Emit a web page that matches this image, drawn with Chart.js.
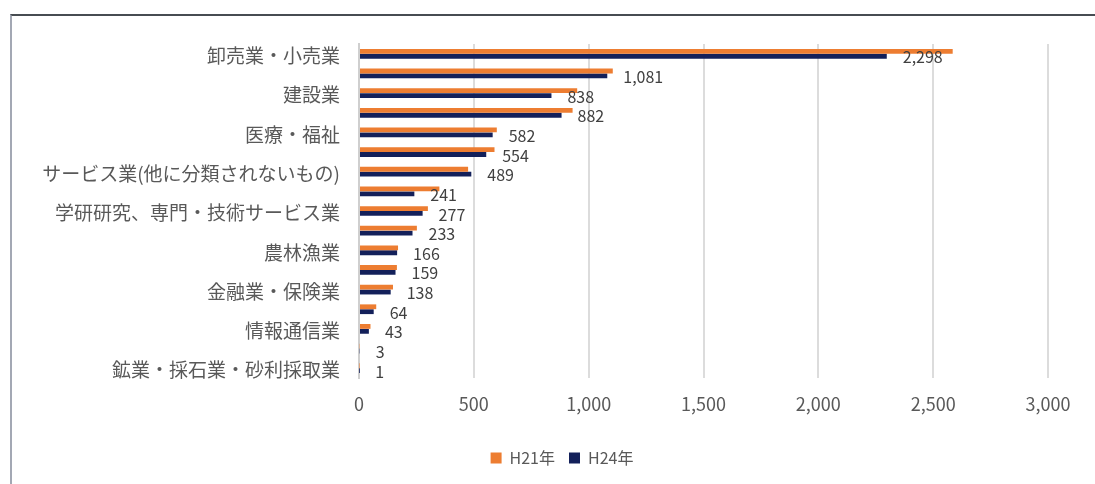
<!DOCTYPE html>
<html lang="ja">
<head>
<meta charset="utf-8">
<title>産業別 事業所数</title>
<script src="https://cdn.jsdelivr.net/npm/chart.js@4/dist/chart.umd.min.js"></script>
<style>
  html, body { margin: 0; padding: 0; background: #fff; }
  body { width: 1095px; height: 484px; position: relative; overflow: hidden; }
  #marco {
    position: absolute; left: 10px; top: 14px; width: 1120px; height: 500px;
    border-top: 2px solid #474c52; border-left: 2px solid #a3a8b4;
    box-sizing: border-box; background: #fff;
  }
  #wrap { position: absolute; left: 0; top: 0; width: 1095px; height: 484px; }
</style>
</head>
<body>
<div id="marco"></div>
<div id="wrap"><canvas id="grafico"></canvas></div>
<script>
// 産業分類（ラベルは1つおきに表示）
const categorias = [
  "卸売業・小売業",
  "宿泊業・飲食サービス業",
  "建設業",
  "製造業",
  "医療・福祉",
  "生活関連サービス業・娯楽業",
  "サービス業(他に分類されないもの)",
  "不動産業・物品賃貸業",
  "学研研究、専門・技術サービス業",
  "運輸業・郵便業",
  "農林漁業",
  "教育・学習支援業",
  "金融業・保険業",
  "複合サービス事業",
  "情報通信業",
  "電気・ガス・熱供給・水道業",
  "鉱業・採石業・砂利採取業"
];
const valoresH21 = [2585, 1105, 950, 930, 600, 590, 475, 350, 300, 252, 170, 165, 148, 75, 50, 3, 2];
const valoresH24 = [2298, 1081, 838, 882, 582, 554, 489, 241, 277, 233, 166, 159, 138, 64, 43, 3, 1];
const ticksX = [0, 500, 1000, 1500, 2000, 2500, 3000];

const fuente = "'Noto Sans CJK JP', 'Noto Sans', sans-serif";
Chart.defaults.font.family = fuente;
Chart.defaults.color = "#595959";

function formato(v) {
  return Number(v).toLocaleString("en-US");
}

// H24年の値を棒の右側に書く
const etiquetasValor = {
  id: "etiquetasValor",
  afterDatasetsDraw(chart) {
    const ctx = chart.ctx;
    const meta = chart.getDatasetMeta(1);
    ctx.save();
    ctx.font = "16px " + fuente;
    ctx.fillStyle = "#404040";
    ctx.textAlign = "left";
    ctx.textBaseline = "middle";
    meta.data.forEach((bar, i) => {
      ctx.fillText(formato(valoresH24[i]), bar.x + 16, bar.y + 1);
    });
    ctx.restore();
  }
};

// 凡例を少し右へ寄せる
const moverLeyenda = {
  id: "moverLeyenda",
  afterLayout(chart) {
    if (!chart.legend) return;
    chart.legend.left += 38;
    chart.legend.right += 38;
  }
};

new Chart(document.getElementById("grafico"), {
  type: "bar",
  data: {
    labels: categorias,
    datasets: [
      { label: "H21年", data: valoresH21, backgroundColor: "#ed7d31" },
      { label: "H24年", data: valoresH24, backgroundColor: "#13205a" }
    ]
  },
  options: {
    indexAxis: "y",
    responsive: true,
    maintainAspectRatio: false,
    animation: false,
    layout: { padding: { top: 44, right: 47, bottom: 8, left: 0 } },
    datasets: { bar: { categoryPercentage: 0.5, barPercentage: 0.98 } },
    plugins: {
      tooltip: { enabled: false },
      legend: {
        position: "bottom",
        labels: {
          color: "#595959",
          font: { size: 16 },
          boxWidth: 11,
          boxHeight: 11,
          padding: 14
        }
      }
    },
    scales: {
      x: {
        min: 0,
        max: 3000,
        afterBuildTicks(scale) { scale.ticks = ticksX.map(v => ({ value: v })); },
        ticks: { callback: v => formato(v), font: { size: 18 }, color: "#595959", padding: 15 },
        grid: { color: "#dcdcdc", lineWidth: 2, drawTicks: false },
        border: { display: false },
        afterFit(scale) { scale.height = 58; }
      },
      y: {
        ticks: {
          autoSkip: false,
          callback: (v, i) => (i % 2 === 0 ? categorias[i] : ""),
          font: { size: 19 },
          color: "#595959",
          padding: 19,
          labelOffset: 2
        },
        grid: { display: false, drawTicks: false },
        border: { display: true, color: "#cfcfcf", width: 2 },
        afterFit(scale) { scale.width = 359; }
      }
    }
  },
  plugins: [etiquetasValor, moverLeyenda]
});
</script>
</body>
</html>
